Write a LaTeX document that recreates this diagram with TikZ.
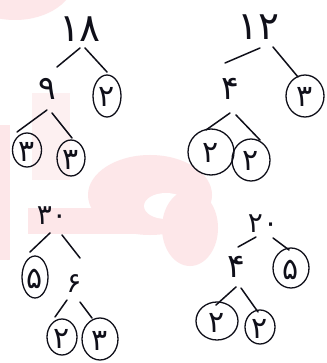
\documentclass[tikz,border=0pt]{standalone}
\usepackage{fontspec}
\newfontfamily\fa[Script=Arabic]{DejaVu Sans}
\usetikzlibrary{shapes.geometric,calc}
\definecolor{wm}{RGB}{253,231,233}
\definecolor{wmfaint}{RGB}{253,240,241}
\definecolor{ink}{RGB}{15,15,25}
\tikzset{
  num/.style={inner sep=0pt, text depth=0pt, text height=24pt, font=\fa\fontsize{33}{33}\selectfont, text=ink},
  topnum/.style={num, text height=28pt, font=\fa\fontsize{39}{39}\selectfont},
  smallnum/.style={num, text height=20pt, font=\fa\fontsize{28}{28}\selectfont},
  leaf/.style={num, text height=22pt, font=\fa\fontsize{30}{30}\selectfont, draw=ink, line width=1.3pt, ellipse, inner sep=-9pt},
  edge/.style={draw=ink, line width=1.5pt, line cap=round},
}
\begin{document}
\begin{tikzpicture}[x=1pt,y=-1pt]
\useasboundingbox (0,0) rectangle (326,363);
\fill[white] (0,0) rectangle (326,363);
% faint watermark
\fill[wm] (15,-22) ellipse (60 and 42);
\fill[wm] (0,125) rectangle (10,260);
\fill[wmfaint] (32,93) rectangle (70,180);
\fill[wm] (150,195) ellipse (62 and 40);
\fill[wm] (28,208) rectangle (150,234);
\fill[white] (166,206) ellipse (22 and 13);
\fill[wm] (190,228) ellipse (28 and 38);
% tree 1
\node[topnum] (a1) at (80,28) {۱۸};
\node[num] (b1) at (47,88) {۹};
\node[leaf, minimum width=28pt, minimum height=42pt] (c1) at (107,96) {۲};
\node[leaf, minimum width=29pt, minimum height=34pt] (d1) at (27,150) {۳};
\node[leaf, minimum width=28pt, minimum height=36pt] (e1) at (71,158) {۳};
\draw[edge] ($(a1)+(0,20)$) -- ($(b1)+(10,-21)$);
\draw[edge] ($(a1)+(5,20)$) -- ($(c1)+(0,-24)$);
\draw[edge] ($(b1)+(0,22)$) -- ($(d1)+(-10,-18)$);
\draw[edge] ($(b1)+(5,25)$) -- ($(e1)+(1,-20)$);
% tree 2
\node[topnum] (a2) at (258,26) {۱۲};
\node[num] (b2) at (230,88) {۴};
\node[leaf, minimum width=38pt, minimum height=42pt] (c2) at (305,96) {۳};
\node[leaf, minimum width=46pt, minimum height=46pt] (d2) at (211,152) {۲};
\node[leaf, minimum width=38pt, minimum height=42pt] (e2) at (251,160) {۲};
\draw[edge] ($(a2)+(2,22)$) -- ($(b2)+(-5,-25)$);
\draw[edge] ($(a2)+(15,21)$) -- ($(c2)+(-7,-19)$);
\draw[edge] ($(b2)+(0,25)$) -- ($(d2)+(-5,-22)$);
\draw[edge] ($(b2)+(6,27)$) -- ($(e2)+(9,-20)$);
% tree 3
\node[smallnum] (a3) at (52,214) {۳۰};
\node[leaf, minimum width=26pt, minimum height=42pt] (b3) at (35,277) {۵};
\node[smallnum] (c3) at (74,282) {۶};
\node[leaf, minimum width=30pt, minimum height=36pt] (d3) at (62,337) {۲};
\node[leaf, minimum width=36pt, minimum height=42pt] (e3) at (100,339) {۳};
\draw[edge] ($(a3)+(-2,19)$) -- ($(b3)+(-5,-25)$);
\draw[edge] ($(a3)+(10,21)$) -- ($(c3)+(6,-24)$);
\draw[edge] ($(c3)+(-7,18)$) -- ($(d3)+(-7,-20)$);
\draw[edge] ($(c3)+(6,20)$) -- ($(e3)+(-8,-21)$);
% tree 4
\node[smallnum] (a4) at (263,222) {۲۰};
\node[num] (b4) at (236,265) {۴};
\node[leaf, minimum width=36pt, minimum height=40pt] (c4) at (291,268) {۵};
\node[leaf, minimum width=42pt, minimum height=38pt] (d4) at (217,321) {۲};
\node[leaf, minimum width=30pt, minimum height=34pt] (e4) at (260,327) {۲};
\draw[edge] ($(a4)+(-7,15)$) -- ($(b4)+(2,-18)$);
\draw[edge] ($(a4)+(10,16)$) -- ($(c4)+(-2,-18)$);
\draw[edge] ($(b4)+(0,22)$) -- ($(d4)+(-1,-16)$);
\draw[edge] ($(b4)+(5,23)$) -- ($(e4)+(-2,-15)$);
\end{tikzpicture}
\end{document}
